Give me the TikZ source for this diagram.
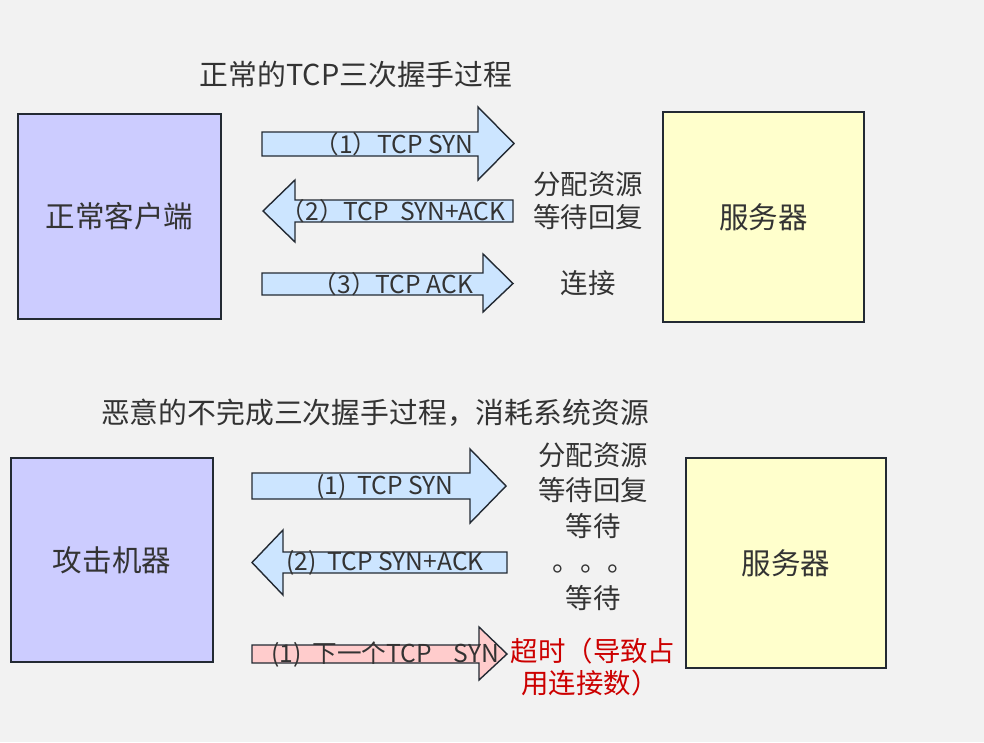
\documentclass[tikz,border=0pt]{standalone}
\usepackage{fontspec}
\usepackage{tikz}
\newfontfamily\cjk{Noto Sans CJK SC}
\definecolor{bg}{HTML}{F2F2F2}
\definecolor{edge}{HTML}{232A33}
\definecolor{ink}{HTML}{333333}
\definecolor{clientfill}{HTML}{CCCCFF}
\definecolor{serverfill}{HTML}{FFFFCC}
\definecolor{pktblue}{HTML}{CCE5FF}
\definecolor{pktred}{HTML}{FFCCCC}
\definecolor{alert}{HTML}{CC0000}

\begin{document}
\begin{tikzpicture}[x=0.025cm, y=-0.025cm,
	every node/.style={font=\cjk, text=ink, inner sep=0pt},
	title/.style={font=\cjk\fontsize{20.5}{24}\selectfont},
	host/.style={draw=edge, line width=1.4pt, font=\cjk\fontsize{21}{25}\selectfont},
	pkt/.style={draw=edge, line width=1pt, fill=pktblue},
	pktlabel/.style={font=\cjk\fontsize{17.5}{21}\selectfont},
	note/.style={font=\cjk\fontsize{19.5}{24}\selectfont}]
	% Background:
	\fill[bg] (0, 0) rectangle (984, 742);
	\useasboundingbox (0, 0) rectangle (984, 742);

	% Normal handshake:
	\node[title] (title1) at (356, 75) {正常的TCP三次握手过程};
	\node[host, fill=clientfill, minimum width=5.075cm, minimum height=5.125cm] (client) at (119.5, 216.5) {正常客户端};
	\node[host, fill=serverfill, minimum width=5.025cm, minimum height=5.25cm] (server) at (763.5, 217) {服务器};
	\draw[pkt] (262, 132) -- (478, 132) -- (478, 107) -- (514, 143.5) -- (478, 180) -- (478, 156) -- (262, 156) -- cycle;
	\draw[pkt] (513, 200) -- (295, 200) -- (295, 180) -- (263, 211) -- (295, 242) -- (295, 222) -- (513, 222) -- cycle;
	\draw[pkt] (262, 273) -- (483, 273) -- (483, 254) -- (513, 283.5) -- (483, 312) -- (483, 295) -- (262, 295) -- cycle;
	\node[pktlabel] (syn) at (394, 144) {（1）TCP SYN};
	\node[pktlabel] (synack) at (393, 211) {（2）TCP\ \ SYN+ACK};
	\node[pktlabel] (ack) at (393, 284) {（3）TCP ACK};
	\node[note] (alloc) at (588, 184) {分配资源};
	\node[note] (wait) at (588, 217) {等待回复};
	\node[note] (conn) at (588, 283) {连接};

	% Malicious handshake:
	\node[title] (title2) at (375, 413) {恶意的不完成三次握手过程，消耗系统资源};
	\node[host, fill=clientfill, minimum width=5.05cm, minimum height=5.1cm] (attacker) at (112, 560) {攻击机器};
	\node[host, fill=serverfill, minimum width=5cm, minimum height=5.25cm] (victim) at (786, 563) {服务器};
	\draw[pkt] (252, 473) -- (470, 473) -- (470, 449) -- (506, 486) -- (470, 523) -- (470, 499) -- (252, 499) -- cycle;
	\draw[pkt] (507, 552) -- (283, 552) -- (283, 530) -- (252, 562.5) -- (283, 595) -- (283, 573) -- (507, 573) -- cycle;
	\draw[pkt, fill=pktred] (252, 645) -- (479, 645) -- (479, 627) -- (507, 654) -- (479, 680) -- (479, 663) -- (252, 663) -- cycle;
	\node[pktlabel] (syn2) at (385, 487) {(1)\ \ TCP SYN};
	\node[pktlabel] (synack2) at (385, 563) {(2)\ \ TCP SYN+ACK};
	\node[pktlabel] (nextsyn) at (385, 655) {(1)\ \ 下一个TCP\ \ \ \ SYN};
	\node[note] (alloc2) at (593, 455) {分配资源};
	\node[note] (wait2) at (593, 490) {等待回复};
	\node[note] (hold) at (593, 526) {等待};
	\node[note] (dots) at (594, 569) {。。。};
	\node[note] (hold2) at (593, 598) {等待};
	\node[note, text=alert] (timeout) at (593, 651) {超时（导致占};
	\node[note, text=alert] (used) at (590, 683) {用连接数）};
\end{tikzpicture}
\end{document}
